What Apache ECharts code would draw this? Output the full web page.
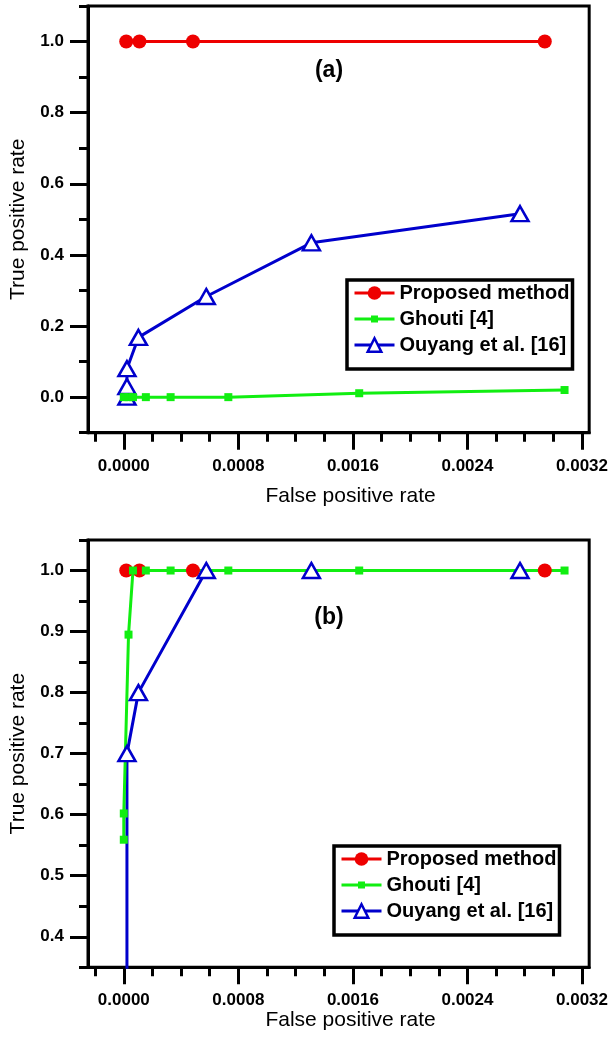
<!DOCTYPE html>
<html>
<head>
<meta charset="utf-8">
<script src="https://cdn.jsdelivr.net/npm/echarts@6/dist/echarts.min.js"></script>
<style>
  html, body { margin: 0; padding: 0; background: #fff; }
  #chart { width: 611px; height: 1042px; }
</style>
</head>
<body>
<div id="chart"></div>
<script>
// ---- Panel (a): ROC points, false positive rate (x) vs true positive rate (y)
const proposedA_fpr = [0.000017, 0.000109, 0.000483, 0.00294];
const proposedA_tpr = [1.0, 1.0, 1.0, 1.0];
const ghoutiA_fpr = [0, 0.000033, 0.000064, 0.000154, 0.000327, 0.00073, 0.001644, 0.003078];
const ghoutiA_tpr = [0, 0, 0, 0, 0, 0, 0.011, 0.02];
const ouyangA_fpr = [0.000022, 0.000022, 0.000022, 0.000102, 0.000576, 0.00131, 0.002767];
const ouyangA_tpr = [0, 0.03, 0.08, 0.168, 0.283, 0.434, 0.516];

// ---- Panel (b)
const proposedB_fpr = [0.000017, 0.000109, 0.000483, 0.00294];
const proposedB_tpr = [1.0, 1.0, 1.0, 1.0];
const ghoutiB_fpr = [0, 0, 0.000033, 0.000064, 0.000154, 0.000327, 0.00073, 0.001644, 0.003078];
const ghoutiB_tpr = [0.559, 0.602, 0.895, 1.0, 1.0, 1.0, 1.0, 1.0, 1.0];
const ouyangB_fpr = [0.000022, 0.000022, 0.000102, 0.000576, 0.00131, 0.002767];
const ouyangB_tpr = [0, 0.7, 0.8, 1.0, 1.0, 1.0];

// ---- Tick positions
const xMajorTicks = [0, 0.0008, 0.0016, 0.0024, 0.0032];
const xMinorTicks = [-0.0002, 0.0002, 0.0004, 0.0006, 0.001, 0.0012, 0.0014, 0.0018, 0.002, 0.0022, 0.0026, 0.0028, 0.003];
const yMajorTicksA = [0, 0.2, 0.4, 0.6, 0.8, 1.0];
const yMinorTicksA = [-0.1, 0.1, 0.3, 0.5, 0.7, 0.9, 1.1];
const yMajorTicksB = [0.4, 0.5, 0.6, 0.7, 0.8, 0.9, 1.0];
const yMinorTicksB = [0.35, 0.45, 0.55, 0.65, 0.75, 0.85, 0.95, 1.05];

const seriesNames = ['Proposed method', 'Ghouti [4]', 'Ouyang et al. [16]'];
const panelTags = ['(a)', '(b)'];

const FONT = 'Liberation Sans, Arial, sans-serif';
const RED = '#ee0000', GREEN = '#11ee11', BLUE = '#0000cc';
const X_MIN = -0.00025, X_MAX = 0.00325;

function pairs(xs, ys) { return xs.map((x, i) => [x, ys[i]]); }

function xAxes(grid, nameGap) {
  return [
    {
      gridIndex: grid, type: 'value', min: X_MIN, max: X_MAX, position: 'bottom',
      name: 'False positive rate', nameLocation: 'middle', nameGap: nameGap,
      nameTextStyle: { fontFamily: FONT, fontSize: 21, color: '#000', padding: [0, 0, 0, 24] },
      axisLine: { onZero: false, lineStyle: { color: '#000', width: 3 } },
      axisTick: { customValues: xMajorTicks, length: 17, lineStyle: { color: '#000', width: 3 } },
      axisLabel: { customValues: xMajorTicks, formatter: v => v.toFixed(4), margin: 25,
                   fontFamily: FONT, fontWeight: 'bold', fontSize: 17, color: '#000' },
      splitLine: { show: false }
    },
    {
      gridIndex: grid, type: 'value', min: X_MIN, max: X_MAX, position: 'bottom',
      axisLine: { show: false, onZero: false },
      axisTick: { customValues: xMinorTicks, length: 9, lineStyle: { color: '#000', width: 3 } },
      axisLabel: { show: false },
      splitLine: { show: false }
    }
  ];
}

function yAxes(grid, min, max, major, minor) {
  return [
    {
      gridIndex: grid, type: 'value', min: min, max: max, position: 'left',
      name: 'True positive rate', nameLocation: 'middle', nameGap: 59,
      nameTextStyle: { fontFamily: FONT, fontSize: 21, color: '#000' },
      axisLine: { onZero: false, lineStyle: { color: '#000', width: 3 } },
      axisTick: { customValues: major, length: 18, lineStyle: { color: '#000', width: 3 } },
      axisLabel: { customValues: major, formatter: v => v.toFixed(1), margin: 24,
                   fontFamily: FONT, fontWeight: 'bold', fontSize: 17, color: '#000' },
      splitLine: { show: false }
    },
    {
      gridIndex: grid, type: 'value', min: min, max: max, position: 'left',
      axisLine: { show: false, onZero: false },
      axisTick: { customValues: minor, length: 9, lineStyle: { color: '#000', width: 3 } },
      axisLabel: { show: false },
      splitLine: { show: false }
    }
  ];
}

function panelSeries(grid, red, green, blue) {
  const xi = grid * 2, yi = grid * 2;
  return [
    { name: seriesNames[0], type: 'line', xAxisIndex: xi, yAxisIndex: yi, data: red,
      symbol: 'circle', symbolSize: 14, clip: true,
      lineStyle: { color: RED, width: 3 }, itemStyle: { color: RED } },
    { name: seriesNames[2], type: 'line', xAxisIndex: xi, yAxisIndex: yi, data: blue,
      symbol: 'triangle', symbolSize: [17, 15], clip: true,
      lineStyle: { color: BLUE, width: 3 },
      itemStyle: { color: '#fff', borderColor: BLUE, borderWidth: 2.5 } },
    { name: seriesNames[1], type: 'line', xAxisIndex: xi, yAxisIndex: yi, data: green,
      symbol: 'rect', symbolSize: 8, clip: true,
      lineStyle: { color: GREEN, width: 3 }, itemStyle: { color: GREEN } }
  ];
}

// legend marker for the square-marker series: short line with a small square
const squareLineIcon = 'path://M0,2 L16.5,2 L16.5,0 L23.5,0 L23.5,2 L40,2 L40,5 L23.5,5 L23.5,7 L16.5,7 L16.5,5 L0,5 Z';

function legendAt(left, top) {
  return {
    orient: 'vertical', left: left, top: top,
    data: [
      { name: seriesNames[0] },
      { name: seriesNames[1], icon: squareLineIcon },
      { name: seriesNames[2], itemStyle: { borderWidth: 2.5, borderColor: BLUE, color: '#fff' } }
    ],
    itemWidth: 40, itemHeight: 17, itemGap: 6,
    padding: [3, 3, 14, 6],
    borderColor: '#000', borderWidth: 3.5,
    lineStyle: { width: 3 },
    selectedMode: false,
    textStyle: { fontFamily: FONT, fontWeight: 'bold', fontSize: 20, color: '#000' }
  };
}

const chart = echarts.init(document.getElementById('chart'), null, { renderer: 'canvas' });
chart.setOption({
  animation: false,
  backgroundColor: '#fff',
  grid: [
    { left: 86.7, top: 6, width: 506.6, height: 426.7, show: true, borderColor: '#000', borderWidth: 3, containLabel: false },
    { left: 86.7, top: 540, width: 506.6, height: 427.3, show: true, borderColor: '#000', borderWidth: 3, containLabel: false }
  ],
  xAxis: [...xAxes(0, 53), ...xAxes(1, 42)],
  yAxis: [...yAxes(0, -0.1, 1.1, yMajorTicksA, yMinorTicksA), ...yAxes(1, 0.35, 1.05, yMajorTicksB, yMinorTicksB)],
  legend: [legendAt(347, 280), legendAt(334, 846)],
  series: [
    ...panelSeries(0, pairs(proposedA_fpr, proposedA_tpr), pairs(ghoutiA_fpr, ghoutiA_tpr), pairs(ouyangA_fpr, ouyangA_tpr)),
    ...panelSeries(1, pairs(proposedB_fpr, proposedB_tpr), pairs(ghoutiB_fpr, ghoutiB_tpr), pairs(ouyangB_fpr, ouyangB_tpr))
  ],
  graphic: [
    { type: 'text', x: 329, y: 71, style: { text: panelTags[0], font: 'bold 23px ' + FONT, fill: '#000',
      textAlign: 'center', textVerticalAlign: 'middle', align: 'center', verticalAlign: 'middle' } },
    { type: 'text', x: 329, y: 618, style: { text: panelTags[1], font: 'bold 23px ' + FONT, fill: '#000',
      textAlign: 'center', textVerticalAlign: 'middle', align: 'center', verticalAlign: 'middle' } }
  ]
});
</script>
</body>
</html>
